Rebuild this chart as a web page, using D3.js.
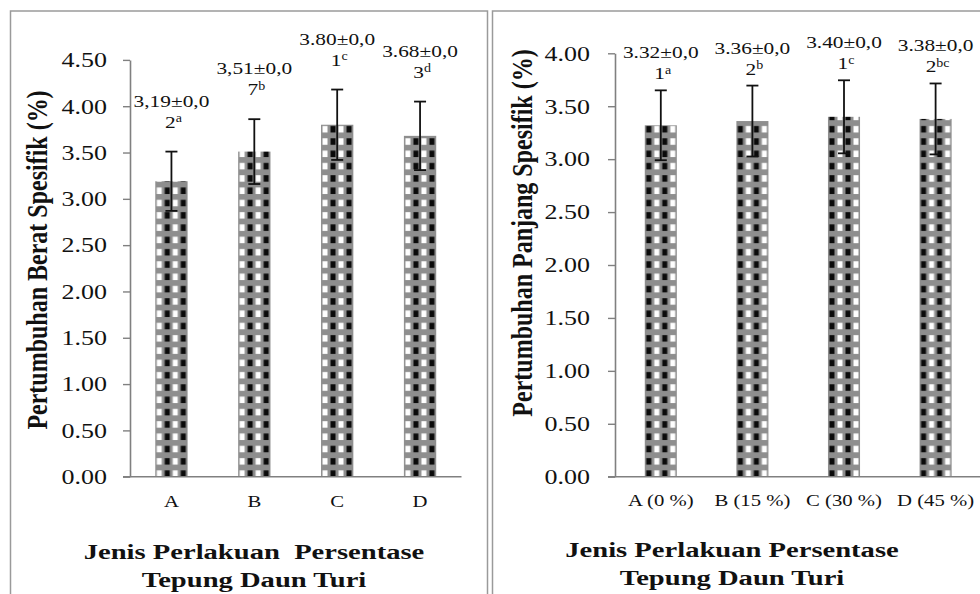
<!DOCTYPE html>
<html>
<head>
<meta charset="utf-8">
<script src="https://cdn.jsdelivr.net/npm/d3@7"></script>
<style>
html,body{margin:0;padding:0;background:#fff;}
svg{display:block;}
text{font-family:"Liberation Serif","Times New Roman",serif;fill:#111;}
</style>
</head>
<body>
<svg id="chart" width="980" height="594"></svg>
<script>
// ---------- DATA ----------
const categoriesBerat = ["A", "B", "C", "D"];
const beratMean = [3.19, 3.51, 3.80, 3.68];
const beratErr = [0.32, 0.35, 0.38, 0.37];
const beratLabelTop = ["3,19±0,0", "3,51±0,0", "3.80±0,0", "3.68±0,0"];
const beratLabelBottom = ["2", "7", "1", "3"];
const beratLetters = ["a", "b", "c", "d"];
const beratTicks = [0, 0.5, 1.0, 1.5, 2.0, 2.5, 3.0, 3.5, 4.0, 4.5];

const categoriesPanjang = ["A (0 %)", "B (15 %)", "C (30 %)", "D (45 %)"];
const panjangMean = [3.32, 3.36, 3.40, 3.38];
const panjangErr = [0.33, 0.335, 0.345, 0.335];
const panjangLabelTop = ["3.32±0,0", "3.36±0,0", "3.40±0,0", "3.38±0,0"];
const panjangLabelBottom = ["1", "2", "1", "2"];
const panjangLetters = ["a", "b", "c", "bc"];
const panjangTicks = [0, 0.5, 1.0, 1.5, 2.0, 2.5, 3.0, 3.5, 4.0];

const yTitleBerat = "Pertumbuhan Berat Spesifik (%)";
const yTitlePanjang = "Pertumbuhan Panjang Spesifik (%)";
const xTitleBerat = ["Jenis Perlakuan  Persentase", "Tepung Daun Turi"];
const xTitlePanjang = ["Jenis Perlakuan Persentase", "Tepung Daun Turi"];

// ---------- DRAW ----------
const svg = d3.select("#chart");
const defs = svg.append("defs");
const AXIS = "#808080";

function makePattern(id, x0, blackFirst) {
  const p = defs.append("pattern").attr("id", id)
    .attr("patternUnits", "userSpaceOnUse")
    .attr("x", x0).attr("y", 0).attr("width", 16).attr("height", 12.3);
  p.append("rect").attr("width", 16).attr("height", 12.3).attr("fill", "#8e8e8e");
  p.append("rect").attr("x", 1.5).attr("y", 3).attr("width", 5).attr("height", 6.5)
    .attr("fill", blackFirst ? "#0a0a0a" : "#ffffff");
  p.append("rect").attr("x", 9.5).attr("y", 3).attr("width", 5).attr("height", 6.5)
    .attr("fill", blackFirst ? "#ffffff" : "#0a0a0a");
}

function panel(cfg) {
  const g = svg.append("g");
  // border
  g.append("rect").attr("x", cfg.box[0]).attr("y", cfg.box[1])
    .attr("width", cfg.box[2]).attr("height", cfg.box[3])
    .attr("fill", "none").attr("stroke", "#9a9a9a").attr("stroke-width", 1.5);

  const x = d3.scaleBand().domain(cfg.cats).range(cfg.xr).paddingInner(cfg.pad).paddingOuter(cfg.pad / 2);
  const y = d3.scaleLinear().domain([0, d3.max(cfg.ticks)]).range(cfg.yr);

  // y axis
  const ya = g.append("g").attr("transform", `translate(${cfg.xr[0]},0)`)
    .call(d3.axisLeft(y).tickValues(cfg.ticks).tickFormat(d3.format(".2f")).tickSize(7).tickSizeOuter(0));
  ya.select(".domain").attr("stroke", AXIS).attr("stroke-width", 1.6);
  ya.selectAll(".tick line").attr("stroke", AXIS).attr("stroke-width", 1.4);
  ya.selectAll(".tick text")
    .attr("x", null).attr("dy", "0.34em")
    .attr("transform", `translate(${-cfg.tickGap},0) scale(1.3,1)`)
    .attr("text-anchor", "end")
    .style("font-family", '"Liberation Serif",serif').style("font-size", "20px").style("fill", "#111");

  // bars
  cfg.mean.forEach((v, i) => {
    const bx = x(cfg.cats[i]);
    const pid = cfg.id + "pat" + i;
    makePattern(pid, bx, cfg.blackFirst);
    g.append("rect").attr("x", bx).attr("y", y(v))
      .attr("width", x.bandwidth()).attr("height", y(0) - y(v))
      .attr("fill", `url(#${pid})`);
  });

  // x axis line
  g.append("line").attr("x1", cfg.xr[0] - 7).attr("x2", cfg.xAxisEnd)
    .attr("y1", y(0)).attr("y2", y(0)).attr("stroke", AXIS).attr("stroke-width", 1.6);

  // x category labels
  const xa = g.append("g").attr("transform", `translate(0,${y(0)})`)
    .call(d3.axisBottom(x).tickSize(0));
  xa.select(".domain").remove();
  xa.selectAll(".tick text")
    .attr("y", null).attr("dy", null)
    .attr("transform", `translate(0,${cfg.catDy}) scale(1.22,1)`)
    .style("font-family", '"Liberation Serif",serif').style("font-size", "17px").style("fill", "#111");

  // error bars
  cfg.mean.forEach((v, i) => {
    const cx = x(cfg.cats[i]) + x.bandwidth() / 2;
    const e = cfg.err[i];
    const eg = g.append("g").attr("stroke", "#111").attr("stroke-width", 1.8);
    eg.append("line").attr("x1", cx).attr("x2", cx).attr("y1", y(v + e)).attr("y2", y(v - e));
    eg.append("line").attr("x1", cx - 6).attr("x2", cx + 6).attr("y1", y(v + e)).attr("y2", y(v + e));
    eg.append("line").attr("x1", cx - 6).attr("x2", cx + 6).attr("y1", y(v - e)).attr("y2", y(v - e));

    const by = y(v + e) - cfg.labelGap;
    g.append("text").attr("text-anchor", "middle")
      .attr("transform", `translate(${cx},${by - 21}) scale(1.22,1)`)
      .style("font-size", "17.5px").text(cfg.lblTop[i]);
    const t2 = g.append("text").attr("text-anchor", "middle")
      .attr("transform", `translate(${cx + 2},${by}) scale(1.22,1)`)
      .style("font-size", "17.5px");
    t2.append("tspan").text(cfg.lblBot[i]);
    t2.append("tspan").attr("dy", "-0.45em").style("font-size", "11.5px").text(cfg.letters[i]);
  });

  // y title
  g.append("text").attr("text-anchor", "middle")
    .attr("transform", `translate(${cfg.yTitlePos[0]},${cfg.yTitlePos[1]}) rotate(-90) scale(1,1.2)`)
    .style("font-size", "24px").style("font-weight", "bold").text(cfg.yTitle);

  // x title
  cfg.xTitle.forEach((t, k) => {
    g.append("text").attr("text-anchor", "middle").attr("xml:space", "preserve")
      .attr("transform", `translate(${cfg.xTitlePos[0]},${cfg.xTitlePos[1] + k * 27.5}) scale(1.3,1)`)
      .style("font-size", "22px").style("font-weight", "bold").style("white-space", "pre").text(t);
  });
}

panel({
  id: "berat", box: [10.5, 11, 477, 640],
  cats: categoriesBerat, mean: beratMean, err: beratErr, ticks: beratTicks,
  lblTop: beratLabelTop, lblBot: beratLabelBottom, letters: beratLetters,
  xr: [130, 461.5], yr: [476.7, 59.9], pad: 0.61, xAxisEnd: 461.5,
  tickGap: 23, catDy: 30, labelGap: 24, blackFirst: false,
  yTitle: yTitleBerat, yTitlePos: [47, 260],
  xTitle: xTitleBerat, xTitlePos: [254, 559]
});

panel({
  id: "panjang", box: [492.5, 11, 520, 640],
  cats: categoriesPanjang, mean: panjangMean, err: panjangErr, ticks: panjangTicks,
  lblTop: panjangLabelTop, lblBot: panjangLabelBottom, letters: panjangLetters,
  xr: [615, 981.4], yr: [476.7, 53.3], pad: 0.65, xAxisEnd: 980,
  tickGap: 25, catDy: 29, labelGap: 11, blackFirst: true,
  yTitle: yTitlePanjang, yTitlePos: [532, 233],
  xTitle: xTitlePanjang, xTitlePos: [732, 557]
});
</script>
</body>
</html>
